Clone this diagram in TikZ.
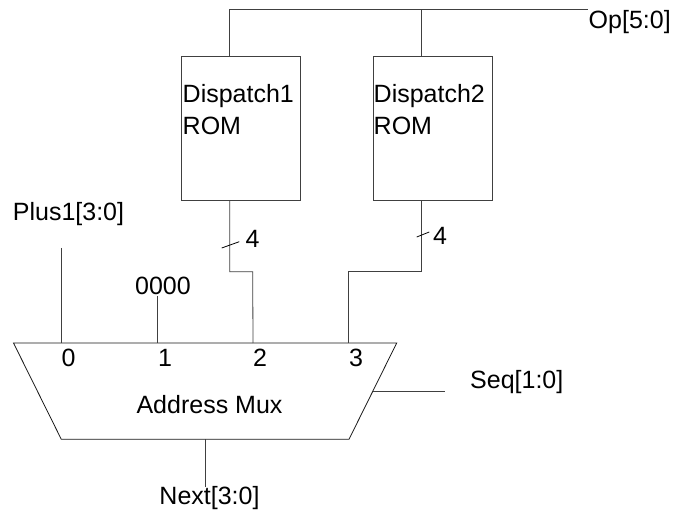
\documentclass[tikz,border=0pt]{standalone}
\usepackage{fontspec}
\setmainfont{Liberation Sans}
\tikzset{
  lbl/.style={inner sep=0pt,font=\fontsize{25pt}{32pt}\selectfont,text=black},
  wire/.style={draw=black!75,line width=0.8pt},
  rom/.style={draw=black!75,line width=0.8pt,minimum width=119pt,minimum height=143.5pt,inner sep=0pt}
}
\begin{document}
\begin{tikzpicture}[x=1pt,y=-1pt]
\useasboundingbox (0,0) rectangle (681,513);
\fill[white] (0,0) rectangle (681,513);
\node[rom] (d1) at (241.2,128.5) {};
\node[rom] (d2) at (432.5,128.5) {};
\node[lbl,align=left,anchor=west] (d1t) at (182.5,110) {Dispatch1\\ROM};
\node[lbl,align=left,anchor=west] (d2t) at (373.5,110) {Dispatch2\\ROM};
\coordinate (d1n) at (229.7,56.7);
\coordinate (d2n) at (421,56.7);
\coordinate (d1s) at (229.7,200.3);
\coordinate (d2s) at (421,200.3);
\coordinate (opl) at (229.7,9);
\coordinate (opm) at (421,9);
\coordinate (opr) at (588,9);
\draw[wire] (d1n) -- (opl) -- (opr);
\draw[wire] (d2n) -- (opm);
\node[lbl,anchor=west] (op) at (588.5,22.5) {Op[5:0]};
\draw[wire,draw=black!90] (13.5,343) -- (396.7,343) -- (349,439.3) -- (61.3,439.3) -- cycle;
\coordinate (m0) at (61.3,343);
\coordinate (m1) at (157.3,343);
\coordinate (m2) at (253,343);
\coordinate (m3) at (348.7,343);
\coordinate (p) at (61.3,248);
\coordinate (z) at (157.3,296);
\draw[wire] (p) -- (m0);
\draw[wire] (z) -- (m1);
\draw[wire] (d1s) -- (229.7,271.7) -- (252.7,271.7) -- (m2);
\draw[wire] (d2s) -- (421,271.7) -- (348.7,271.7) -- (m3);
\draw[wire,draw=black] (221.7,248) -- (239.3,241.7);
\draw[wire,draw=black] (416.7,237) -- (429.3,232);
\node[lbl] at (252.5,238.5) {4};
\node[lbl] at (440,236) {4};
\node[lbl] at (68.5,214.5) {Plus1[3:0]};
\node[lbl] at (163,286) {0000};
\node[lbl] at (68.5,358) {0};
\node[lbl] at (165,358) {1};
\node[lbl] at (260,358) {2};
\node[lbl] at (356,358) {3};
\node[lbl] at (209.5,405) {Address Mux};
\node[lbl,anchor=west] at (470,382.5) {Seq[1:0]};
\coordinate (sq) at (444.7,391.3);
\coordinate (sm) at (373,391.3);
\draw[wire] (sm) -- (sq);
\coordinate (nt) at (205,439.3);
\coordinate (nb) at (205,487);
\draw[wire] (nt) -- (nb);
\node[lbl] at (209.5,498) {Next[3:0]};
\end{tikzpicture}
\end{document}
